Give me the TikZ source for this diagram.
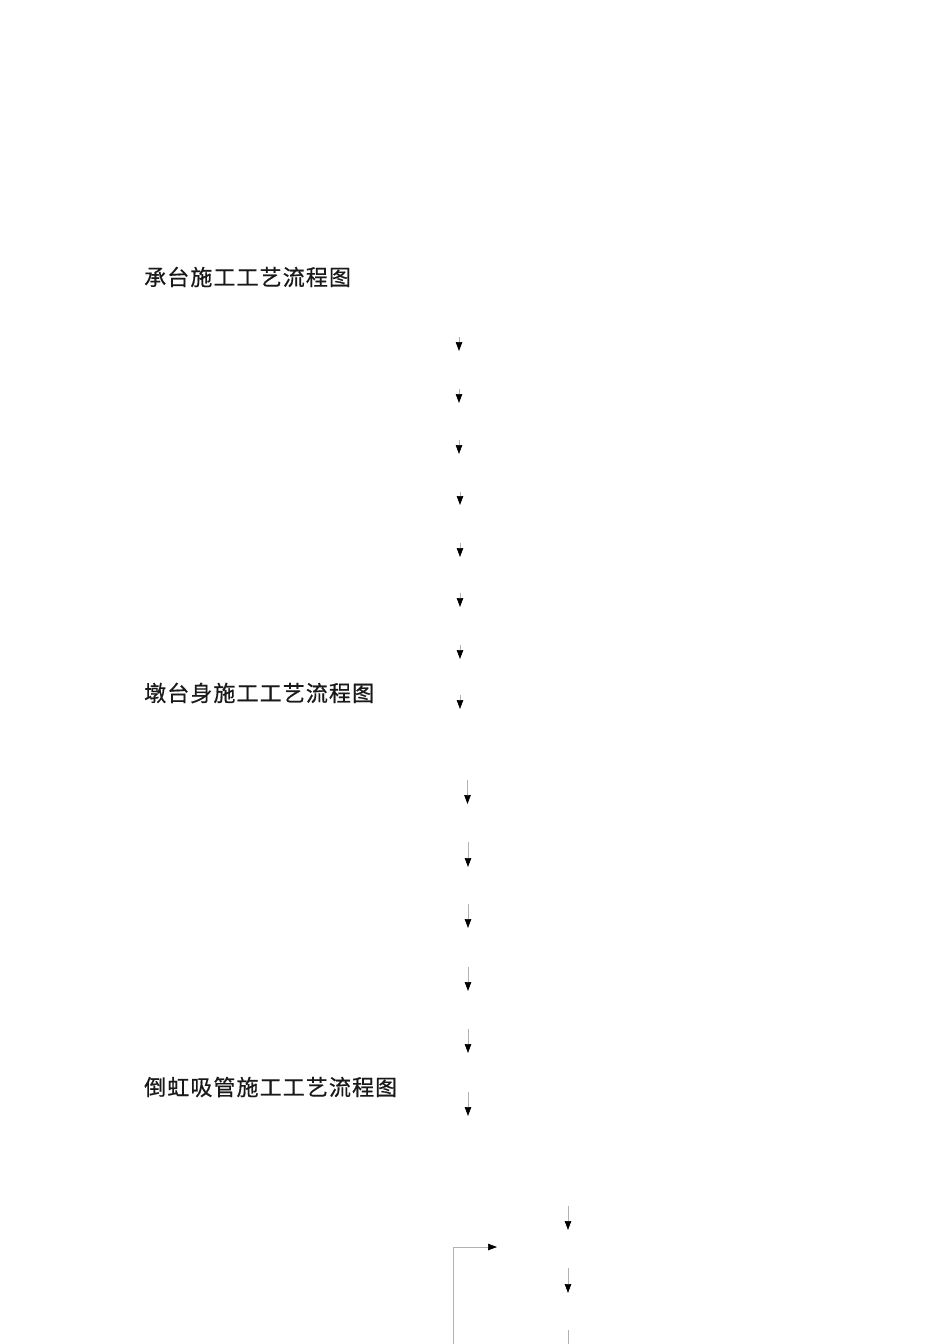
\documentclass[tikz,border=0pt]{standalone}
\usepackage{fontspec}
\newfontfamily\cjk[LetterSpace=5,FakeBold=0.6]{Noto Sans CJK SC}
\usetikzlibrary{arrows.meta}
\tikzset{
  titletext/.style={anchor=west, inner sep=0pt, font=\cjk\fontsize{22}{24}\selectfont, text=black!90},
  flowarrow/.style={draw=black!30, line width=0.7pt, -{Triangle[length=9pt,width=6.5pt,color=black]}},
  flowline/.style={draw=black!30, line width=0.7pt}
}
\begin{document}
\begin{tikzpicture}[x=1pt,y=-1pt]
\useasboundingbox[fill=white] (0,0) rectangle (950,1344);
% titles
\node[titletext] (t1) at (144,277) {承台施工工艺流程图};
\node[titletext] (t2) at (144,693) {墩台身施工工艺流程图};
\node[titletext] (t3) at (144,1087) {倒虹吸管施工工艺流程图};
% top arrows
\foreach \i/\x/\s/\e in {1/459/337/351, 2/459/389/403, 3/459/440/454, 4/460/492/505, 5/460/543/557, 6/460/593/607, 7/460/645/659, 8/460/695/709}{
  \coordinate (a\i s) at (\x,\s);
  \coordinate (a\i e) at (\x,\e);
  \draw[flowarrow] (a\i s) -- (a\i e);
}
% middle arrows
\foreach \i/\x/\s/\e in {1/467.5/780/804, 2/468/842/867, 3/468/904/928, 4/468/967/991, 5/468/1029/1053, 6/468/1092/1116}{
  \coordinate (b\i s) at (\x,\s);
  \coordinate (b\i e) at (\x,\e);
  \draw[flowarrow] (b\i s) -- (b\i e);
}
% bottom arrows
\foreach \i/\s/\e in {1/1206/1230, 2/1268/1293}{
  \coordinate (c\i s) at (568,\s);
  \coordinate (c\i e) at (568,\e);
  \draw[flowarrow] (c\i s) -- (c\i e);
}
\coordinate (c3s) at (568,1330);
\coordinate (c3e) at (568,1344);
\draw[flowline] (c3s) -- (c3e);
\coordinate (lb) at (453,1344);
\coordinate (lc) at (453,1247);
\coordinate (le) at (497,1247);
\draw[flowarrow] (lb) -- (lc) -- (le);
\end{tikzpicture}
\end{document}
